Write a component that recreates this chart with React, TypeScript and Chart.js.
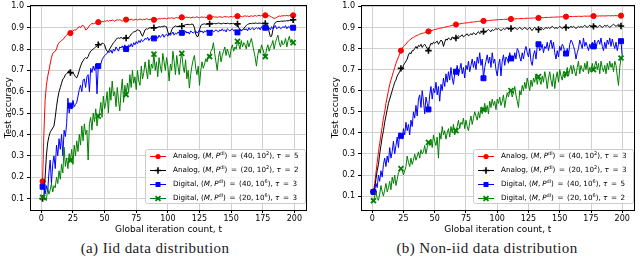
import React, { useEffect, useRef } from "react";
import { Chart, registerables } from "chart.js";

Chart.register(...registerables);

// Global iteration count t = 1..200 (one sample per iteration)
const iterations: number[] = Array.from({ length: 200 }, (_, i) => i + 1);
const xTickStep = 25;
const yTickStep = 0.1;

const schemes = ["Analog", "Analog", "Digital", "Digital"];
const devices = ["40", "20", "40", "20"];
const powerExponents = ["2", "2", "6", "6"];
const iidTaus = ["5", "2", "3", "3"];
const nonIidTaus = ["3", "3", "5", "2"];
const captions = ["(a) Iid data distribution", "(b) Non-iid data distribution"];
const xTitle = "Global iteration count, t";
const yTitle = "Test accuracy";

// (a) iid
const iidAnalog40 = [
  0.18, 0.40, 0.56, 0.63, 0.67, 0.70, 0.73, 0.76, 0.78, 0.785,
  0.79, 0.80, 0.82, 0.83, 0.835, 0.84, 0.845, 0.85, 0.86, 0.865,
  0.87, 0.868, 0.875, 0.88, 0.885, 0.89, 0.888, 0.895, 0.90, 0.905,
  0.90, 0.91, 0.91, 0.905, 0.89, 0.892, 0.90, 0.91, 0.915, 0.92,
  0.918, 0.92, 0.922, 0.92, 0.926, 0.928, 0.925, 0.93, 0.928, 0.932,
  0.93, 0.934, 0.93, 0.935, 0.932, 0.936, 0.934, 0.93, 0.935, 0.937,
  0.935, 0.938, 0.934, 0.93, 0.936, 0.937, 0.938, 0.935, 0.939, 0.936,
  0.94, 0.937, 0.935, 0.938, 0.94, 0.936, 0.938, 0.941, 0.939, 0.937,
  0.94, 0.938, 0.942, 0.94, 0.937, 0.939, 0.941, 0.938, 0.937, 0.94,
  0.942, 0.94, 0.943, 0.941, 0.944, 0.942, 0.945, 0.943, 0.941, 0.944,
  0.946, 0.944, 0.947, 0.945, 0.943, 0.946, 0.948, 0.945, 0.947, 0.946,
  0.949, 0.947, 0.945, 0.948, 0.95, 0.947, 0.949, 0.946, 0.948, 0.95,
  0.947, 0.949, 0.951, 0.948, 0.946, 0.949, 0.951, 0.948, 0.95, 0.947,
  0.949, 0.951, 0.949, 0.947, 0.95, 0.952, 0.949, 0.951, 0.948, 0.95,
  0.952, 0.95, 0.948, 0.951, 0.953, 0.95, 0.952, 0.949, 0.951, 0.953,
  0.95, 0.952, 0.954, 0.951, 0.954, 0.952, 0.955, 0.953, 0.951, 0.954,
  0.956, 0.953, 0.955, 0.952, 0.954, 0.956, 0.953, 0.955, 0.957, 0.954,
  0.956, 0.958, 0.955, 0.957, 0.956, 0.958, 0.958, 0.956, 0.955, 0.957,
  0.953, 0.95, 0.946, 0.944, 0.945, 0.948, 0.952, 0.955, 0.953, 0.956,
  0.955, 0.957, 0.956, 0.958, 0.955, 0.957, 0.959, 0.957, 0.958, 0.96,
];
const iidAnalog20 = [
  0.10, 0.11, 0.20, 0.30, 0.36, 0.39, 0.41, 0.42, 0.43, 0.44,
  0.48, 0.53, 0.57, 0.60, 0.62, 0.64, 0.66, 0.665, 0.68, 0.685,
  0.69, 0.70, 0.69, 0.685, 0.69, 0.68, 0.67, 0.665, 0.68, 0.70,
  0.72, 0.735, 0.745, 0.755, 0.76, 0.755, 0.765, 0.78, 0.79, 0.795,
  0.80, 0.805, 0.81, 0.815, 0.82, 0.825, 0.82, 0.828, 0.826, 0.82,
  0.80, 0.79, 0.785, 0.80, 0.81, 0.82, 0.83, 0.835, 0.845, 0.85,
  0.852, 0.85, 0.855, 0.85, 0.848, 0.852, 0.852, 0.85, 0.855, 0.86,
  0.87, 0.875, 0.88, 0.882, 0.885, 0.89, 0.888, 0.885, 0.87, 0.86,
  0.875, 0.89, 0.895, 0.893, 0.898, 0.90, 0.897, 0.899, 0.90, 0.898,
  0.90, 0.902, 0.905, 0.903, 0.906, 0.905, 0.908, 0.906, 0.904, 0.88,
  0.865, 0.87, 0.89, 0.90, 0.905, 0.908, 0.906, 0.905, 0.907, 0.905,
  0.907, 0.91, 0.912, 0.914, 0.915, 0.916, 0.914, 0.915, 0.917, 0.915,
  0.90, 0.87, 0.858, 0.86, 0.89, 0.91, 0.915, 0.917, 0.918, 0.916,
  0.918, 0.919, 0.918, 0.92, 0.921, 0.919, 0.92, 0.918, 0.92, 0.922,
  0.92, 0.918, 0.919, 0.921, 0.92, 0.919, 0.921, 0.92, 0.918, 0.92,
  0.919, 0.92, 0.915, 0.91, 0.918, 0.90, 0.89, 0.888, 0.89, 0.895,
  0.905, 0.91, 0.915, 0.918, 0.92, 0.919, 0.921, 0.92, 0.922, 0.921,
  0.92, 0.922, 0.921, 0.92, 0.922, 0.921, 0.92, 0.918, 0.91, 0.88,
  0.858, 0.86, 0.89, 0.915, 0.925, 0.928, 0.93, 0.929, 0.93, 0.931,
  0.93, 0.932, 0.931, 0.933, 0.932, 0.934, 0.933, 0.935, 0.937, 0.936,
];
const iidDigital40 = [
  0.155, 0.15, 0.12, 0.16, 0.13, 0.22, 0.28, 0.17, 0.26, 0.30,
  0.24, 0.35, 0.30, 0.38, 0.33, 0.40, 0.30, 0.42, 0.39, 0.45,
  0.57, 0.50, 0.535, 0.52, 0.56, 0.53, 0.54, 0.55, 0.58, 0.61,
  0.63, 0.60, 0.655, 0.66, 0.62, 0.67, 0.68, 0.60, 0.71, 0.69,
  0.72, 0.70, 0.73, 0.59, 0.72, 0.725, 0.73, 0.75, 0.76, 0.77,
  0.775, 0.78, 0.79, 0.785, 0.795, 0.78, 0.80, 0.79, 0.81, 0.80,
  0.79, 0.81, 0.805, 0.815, 0.80, 0.82, 0.80, 0.81, 0.82, 0.81,
  0.825, 0.81, 0.83, 0.82, 0.835, 0.825, 0.84, 0.83, 0.845, 0.835,
  0.84, 0.85, 0.845, 0.855, 0.84, 0.85, 0.855, 0.845, 0.85, 0.855,
  0.86, 0.85, 0.865, 0.855, 0.86, 0.87, 0.855, 0.865, 0.87, 0.86,
  0.875, 0.865, 0.87, 0.88, 0.865, 0.875, 0.87, 0.88, 0.875, 0.87,
  0.876, 0.88, 0.87, 0.885, 0.875, 0.88, 0.87, 0.885, 0.88, 0.875,
  0.88, 0.885, 0.875, 0.88, 0.89, 0.88, 0.885, 0.875, 0.885, 0.88,
  0.89, 0.88, 0.876, 0.885, 0.89, 0.88, 0.885, 0.89, 0.885, 0.88,
  0.89, 0.885, 0.895, 0.885, 0.89, 0.88, 0.895, 0.89, 0.885, 0.89,
  0.895, 0.885, 0.89, 0.88, 0.878, 0.89, 0.895, 0.885, 0.89, 0.895,
  0.89, 0.895, 0.885, 0.90, 0.89, 0.895, 0.90, 0.89, 0.895, 0.90,
  0.895, 0.90, 0.89, 0.905, 0.895, 0.90, 0.90, 0.895, 0.905, 0.90,
  0.89, 0.905, 0.895, 0.90, 0.91, 0.895, 0.90, 0.905, 0.895, 0.90,
  0.905, 0.90, 0.91, 0.895, 0.905, 0.90, 0.91, 0.90, 0.90, 0.905,
];
const iidDigital20 = [
  0.105, 0.11, 0.10, 0.09, 0.15, 0.12, 0.14, 0.17, 0.13, 0.16,
  0.15, 0.20, 0.17, 0.23, 0.19, 0.26, 0.22, 0.34, 0.25, 0.29,
  0.24, 0.31, 0.278, 0.33, 0.26, 0.35, 0.30, 0.37, 0.32, 0.40,
  0.35, 0.44, 0.37, 0.45, 0.40, 0.42, 0.28, 0.45, 0.48, 0.42,
  0.50, 0.46, 0.52, 0.44, 0.486, 0.50, 0.55, 0.48, 0.58, 0.52,
  0.55, 0.60, 0.50, 0.62, 0.56, 0.65, 0.58, 0.60, 0.53, 0.62,
  0.56, 0.51, 0.60, 0.66, 0.55, 0.63, 0.587, 0.64, 0.60, 0.68,
  0.62, 0.70, 0.64, 0.67, 0.61, 0.70, 0.65, 0.63, 0.72, 0.66,
  0.69, 0.74, 0.70, 0.66, 0.75, 0.68, 0.73, 0.71, 0.776, 0.70,
  0.74, 0.67, 0.76, 0.72, 0.69, 0.78, 0.74, 0.70, 0.76, 0.72,
  0.65, 0.73, 0.70, 0.79, 0.74, 0.68, 0.77, 0.72, 0.68, 0.75,
  0.78, 0.72, 0.69, 0.75, 0.66, 0.70, 0.617, 0.68, 0.72, 0.75,
  0.77, 0.71, 0.68, 0.72, 0.63, 0.70, 0.74, 0.71, 0.73, 0.755,
  0.74, 0.77, 0.765, 0.79, 0.80, 0.83, 0.78, 0.74, 0.70, 0.76,
  0.79, 0.74, 0.77, 0.79, 0.81, 0.77, 0.80, 0.78, 0.76, 0.80,
  0.82, 0.79, 0.81, 0.80, 0.836, 0.82, 0.80, 0.84, 0.81, 0.83,
  0.82, 0.80, 0.84, 0.81, 0.83, 0.85, 0.82, 0.79, 0.76, 0.72,
  0.77, 0.80, 0.78, 0.82, 0.80, 0.78, 0.765, 0.80, 0.82, 0.79,
  0.81, 0.82, 0.84, 0.80, 0.83, 0.85, 0.865, 0.83, 0.81, 0.84,
  0.82, 0.827, 0.85, 0.81, 0.84, 0.86, 0.83, 0.845, 0.83, 0.835,
];

// (b) non-iid
const nonIidAnalog40 = [
  0.12, 0.16, 0.21, 0.26, 0.31, 0.35, 0.39, 0.43, 0.47, 0.50,
  0.54, 0.57, 0.60, 0.63, 0.65, 0.67, 0.69, 0.71, 0.73, 0.745,
  0.76, 0.775, 0.79, 0.80, 0.81, 0.815, 0.82, 0.83, 0.835, 0.84,
  0.845, 0.85, 0.853, 0.856, 0.86, 0.862, 0.865, 0.868, 0.87, 0.872,
  0.873, 0.875, 0.877, 0.879, 0.881, 0.883, 0.885, 0.886, 0.888, 0.89,
  0.891, 0.893, 0.894, 0.896, 0.897, 0.898, 0.90, 0.901, 0.902, 0.904,
  0.905, 0.906, 0.908, 0.91, 0.911, 0.912, 0.914, 0.915, 0.916, 0.917,
  0.918, 0.919, 0.92, 0.921, 0.921, 0.922, 0.923, 0.924, 0.925, 0.925,
  0.926, 0.927, 0.927, 0.928, 0.929, 0.929, 0.93, 0.93, 0.931, 0.931,
  0.932, 0.932, 0.933, 0.933, 0.934, 0.934, 0.935, 0.935, 0.936, 0.936,
  0.937, 0.937, 0.938, 0.937, 0.938, 0.939, 0.938, 0.939, 0.94, 0.939,
  0.94, 0.94, 0.941, 0.94, 0.941, 0.942, 0.941, 0.942, 0.942, 0.943,
  0.942, 0.943, 0.943, 0.944, 0.943, 0.944, 0.944, 0.945, 0.944, 0.945,
  0.945, 0.946, 0.945, 0.946, 0.946, 0.947, 0.946, 0.947, 0.947, 0.948,
  0.947, 0.948, 0.948, 0.949, 0.948, 0.949, 0.949, 0.95, 0.949, 0.95,
  0.95, 0.951, 0.95, 0.951, 0.951, 0.952, 0.951, 0.952, 0.952, 0.951,
  0.952, 0.952, 0.953, 0.952, 0.953, 0.953, 0.952, 0.953, 0.953, 0.954,
  0.953, 0.954, 0.953, 0.954, 0.954, 0.953, 0.954, 0.954, 0.955, 0.954,
  0.954, 0.955, 0.954, 0.955, 0.955, 0.954, 0.955, 0.955, 0.956, 0.955,
  0.955, 0.956, 0.955, 0.956, 0.956, 0.955, 0.956, 0.956, 0.956, 0.957,
];
const nonIidAnalog20 = [
  0.12, 0.14, 0.18, 0.22, 0.25, 0.30, 0.34, 0.38, 0.41, 0.45,
  0.48, 0.51, 0.54, 0.56, 0.58, 0.60, 0.62, 0.64, 0.65, 0.67,
  0.68, 0.69, 0.706, 0.70, 0.72, 0.73, 0.74, 0.75, 0.77, 0.78,
  0.775, 0.79, 0.79, 0.80, 0.81, 0.80, 0.815, 0.81, 0.82, 0.805,
  0.815, 0.82, 0.81, 0.80, 0.79, 0.81, 0.825, 0.82, 0.83, 0.825,
  0.83, 0.835, 0.82, 0.83, 0.84, 0.835, 0.81, 0.83, 0.845, 0.84,
  0.85, 0.845, 0.84, 0.855, 0.85, 0.845, 0.85, 0.855, 0.86, 0.855,
  0.86, 0.865, 0.855, 0.86, 0.865, 0.87, 0.86, 0.865, 0.87, 0.865,
  0.875, 0.87, 0.865, 0.875, 0.88, 0.87, 0.875, 0.88, 0.881, 0.875,
  0.88, 0.885, 0.89, 0.885, 0.88, 0.89, 0.885, 0.89, 0.895, 0.89,
  0.895, 0.89, 0.885, 0.89, 0.895, 0.89, 0.895, 0.90, 0.89, 0.895,
  0.895, 0.89, 0.895, 0.90, 0.895, 0.89, 0.895, 0.90, 0.895, 0.89,
  0.895, 0.90, 0.895, 0.89, 0.895, 0.90, 0.89, 0.885, 0.895, 0.90,
  0.895, 0.89, 0.89, 0.895, 0.90, 0.895, 0.89, 0.895, 0.90, 0.895,
  0.90, 0.895, 0.90, 0.905, 0.90, 0.895, 0.90, 0.895, 0.90, 0.905,
  0.90, 0.895, 0.90, 0.905, 0.90, 0.90, 0.895, 0.90, 0.905, 0.90,
  0.905, 0.90, 0.895, 0.90, 0.905, 0.90, 0.905, 0.90, 0.905, 0.91,
  0.905, 0.90, 0.905, 0.91, 0.905, 0.90, 0.905, 0.91, 0.905, 0.90,
  0.905, 0.91, 0.905, 0.90, 0.905, 0.91, 0.905, 0.91, 0.905, 0.90,
  0.905, 0.91, 0.915, 0.91, 0.905, 0.91, 0.915, 0.91, 0.907, 0.905,
];
const nonIidDigital40 = [
  0.12, 0.13, 0.16, 0.14, 0.20, 0.17, 0.22, 0.19, 0.25, 0.28,
  0.24, 0.29, 0.26, 0.33, 0.28, 0.31, 0.36, 0.30, 0.34, 0.38,
  0.33, 0.40, 0.386, 0.37, 0.42, 0.39, 0.45, 0.41, 0.44, 0.39,
  0.46, 0.43, 0.50, 0.47, 0.53, 0.48, 0.56, 0.58, 0.52, 0.60,
  0.55, 0.49, 0.57, 0.54, 0.511, 0.58, 0.62, 0.56, 0.61, 0.59,
  0.64, 0.58, 0.62, 0.55, 0.63, 0.60, 0.66, 0.62, 0.68, 0.64,
  0.69, 0.65, 0.71, 0.66, 0.63, 0.68, 0.69, 0.72, 0.67, 0.70,
  0.73, 0.68, 0.71, 0.66, 0.72, 0.70, 0.74, 0.69, 0.72, 0.75,
  0.71, 0.74, 0.70, 0.76, 0.73, 0.78, 0.72, 0.75, 0.659, 0.71,
  0.74, 0.77, 0.73, 0.76, 0.71, 0.78, 0.73, 0.75, 0.70, 0.67,
  0.72, 0.75, 0.67, 0.74, 0.77, 0.72, 0.76, 0.75, 0.73, 0.78,
  0.753, 0.76, 0.74, 0.78, 0.75, 0.80, 0.79, 0.76, 0.74, 0.78,
  0.75, 0.79, 0.81, 0.78, 0.76, 0.80, 0.74, 0.72, 0.77, 0.79,
  0.75, 0.81, 0.82, 0.79, 0.80, 0.82, 0.78, 0.81, 0.80, 0.83,
  0.79, 0.82, 0.84, 0.80, 0.83, 0.78, 0.75, 0.79, 0.76, 0.81,
  0.79, 0.82, 0.81, 0.78, 0.776, 0.80, 0.77, 0.82, 0.84, 0.83,
  0.81, 0.79, 0.75, 0.78, 0.80, 0.84, 0.82, 0.80, 0.85, 0.81,
  0.83, 0.81, 0.79, 0.82, 0.80, 0.83, 0.81, 0.84, 0.80, 0.83,
  0.84, 0.82, 0.85, 0.81, 0.79, 0.83, 0.80, 0.84, 0.82, 0.85,
  0.81, 0.845, 0.82, 0.80, 0.83, 0.79, 0.82, 0.84, 0.835, 0.76,
];
const nonIidDigital20 = [
  0.078, 0.10, 0.12, 0.09, 0.08, 0.11, 0.15, 0.12, 0.10, 0.13,
  0.16, 0.12, 0.14, 0.17, 0.13, 0.19, 0.16, 0.20, 0.15, 0.18,
  0.21, 0.22, 0.23, 0.225, 0.20, 0.22, 0.24, 0.29, 0.26, 0.24,
  0.28, 0.25, 0.27, 0.30, 0.27, 0.29, 0.31, 0.28, 0.32, 0.30,
  0.31, 0.34, 0.30, 0.33, 0.355, 0.34, 0.37, 0.33, 0.39, 0.36,
  0.34, 0.38, 0.28, 0.40, 0.37, 0.43, 0.39, 0.41, 0.37, 0.40,
  0.42, 0.38, 0.43, 0.40, 0.44, 0.39, 0.41, 0.43, 0.46, 0.42,
  0.45, 0.44, 0.47, 0.42, 0.46, 0.43, 0.41, 0.45, 0.48, 0.44,
  0.47, 0.50, 0.48, 0.46, 0.50, 0.47, 0.52, 0.49, 0.51, 0.54,
  0.50, 0.53, 0.49, 0.55, 0.52, 0.56, 0.53, 0.55, 0.51, 0.56,
  0.54, 0.57, 0.53, 0.55, 0.58, 0.52, 0.56, 0.59, 0.57, 0.60,
  0.60, 0.57, 0.59, 0.62, 0.58, 0.55, 0.52, 0.60, 0.58, 0.625,
  0.60, 0.64, 0.61, 0.66, 0.63, 0.60, 0.65, 0.62, 0.66, 0.64,
  0.68, 0.63, 0.667, 0.65, 0.63, 0.67, 0.64, 0.69, 0.66, 0.61,
  0.66, 0.69, 0.65, 0.62, 0.68, 0.61, 0.66, 0.69, 0.64, 0.70,
  0.67, 0.65, 0.69, 0.66, 0.68, 0.71, 0.67, 0.70, 0.72, 0.68,
  0.72, 0.69, 0.67, 0.71, 0.74, 0.68, 0.72, 0.70, 0.69, 0.73,
  0.70, 0.74, 0.68, 0.71, 0.69, 0.73, 0.70, 0.72, 0.74, 0.70,
  0.73, 0.68, 0.74, 0.71, 0.69, 0.72, 0.68, 0.73, 0.70, 0.74,
  0.71, 0.73, 0.69, 0.74, 0.72, 0.67, 0.625, 0.71, 0.755, 0.76,
];

// ---- styles ----
const COLORS = ["#ff0000", "#000000", "#0000ff", "#008000"];
const MARKERS = ["circle", "cross", "rect", "crossRot"];
const MARKER_R = [2.6, 3.2, 3.5, 3.5];
const MARKER_W = [1, 1.6, 1, 1.8];
const MARK_EVERY = 22;
const FONT = '"DejaVu Sans", sans-serif';
const CANVAS_H = 236;
const LEGEND_FS = 7.2;
const LEGEND_SUP_FS = 5.0;

type Seg = { t?: string; it?: boolean; sup?: boolean; gap?: number };

function legendSegs(k: number, taus: string[]): Seg[] {
  return [
    { t: schemes[k] + ", (" },
    { t: "M", it: true },
    { t: "," },
    { gap: 2 },
    { t: "P", it: true },
    { t: "dl", sup: true },
    { t: ")" },
    { gap: 3.6 },
    { t: "=" },
    { gap: 3.6 },
    { t: "(" + devices[k] + "," },
    { gap: 2 },
    { t: "10" },
    { t: powerExponents[k], sup: true },
    { t: "), " },
    { t: "τ", it: true },
    { gap: 3.6 },
    { t: "=" },
    { gap: 3.6 },
    { t: taus[k] },
  ];
}

function drawMarker(ctx: any, k: number, x: number, y: number) {
  const style = MARKERS[k];
  const r = MARKER_R[k];
  ctx.save();
  ctx.strokeStyle = COLORS[k];
  ctx.fillStyle = COLORS[k];
  ctx.lineWidth = MARKER_W[k];
  ctx.beginPath();
  if (style === "circle") {
    ctx.arc(x, y, r, 0, Math.PI * 2);
    ctx.fill();
  } else if (style === "rect") {
    const s = r * Math.SQRT1_2;
    ctx.fillRect(x - s, y - s, 2 * s, 2 * s);
  } else if (style === "cross") {
    ctx.moveTo(x - r, y);
    ctx.lineTo(x + r, y);
    ctx.moveTo(x, y - r);
    ctx.lineTo(x, y + r);
    ctx.stroke();
  } else {
    const d = r * Math.SQRT1_2;
    ctx.moveTo(x - d, y - d);
    ctx.lineTo(x + d, y + d);
    ctx.moveTo(x - d, y + d);
    ctx.lineTo(x + d, y - d);
    ctx.stroke();
  }
  ctx.restore();
}

function richLegend(taus: string[]) {
  return {
    id: "richLegend",
    afterDraw(chart: any) {
      const ctx = chart.ctx;
      const a = chart.chartArea;
      const fontOf = (s: Seg) =>
        `${s.it ? "italic " : ""}${s.sup ? LEGEND_SUP_FS : LEGEND_FS}px ${FONT}`;
      const segW = (s: Seg) => {
        if (s.gap !== undefined) return s.gap;
        ctx.font = fontOf(s);
        return ctx.measureText(s.t || "").width;
      };
      const rows = [0, 1, 2, 3].map((k) => legendSegs(k, taus));
      ctx.save();
      const widths = rows.map((segs) => segs.reduce((w, s) => w + segW(s), 0));
      const textW = Math.max(...widths);
      const boxW = Math.round(textW + 34);
      const boxH = 54;
      const rowH = 14.2;
      const right = Math.round(a.right - 2);
      const bottom = Math.round(a.bottom - 7);
      const left = right - boxW;
      const top = bottom - boxH;
      ctx.fillStyle = "rgba(255,255,255,0.8)";
      ctx.strokeStyle = "#cccccc";
      ctx.lineWidth = 1;
      ctx.beginPath();
      ctx.roundRect(left + 0.5, top + 0.5, boxW, boxH, 2);
      ctx.fill();
      ctx.stroke();
      rows.forEach((segs, k) => {
        const y = Math.round(top + 6.7 + k * rowH) + 0.5;
        ctx.strokeStyle = COLORS[k];
        ctx.lineWidth = 1;
        ctx.beginPath();
        ctx.moveTo(left + 5, y);
        ctx.lineTo(left + 21, y);
        ctx.stroke();
        drawMarker(ctx, k, left + 13, y);
        let x = left + 28;
        ctx.fillStyle = "#000";
        ctx.textBaseline = "middle";
        ctx.textAlign = "left";
        segs.forEach((s) => {
          const w = segW(s);
          if (s.t) {
            ctx.font = fontOf(s);
            ctx.fillText(s.t, x, s.sup ? y - 2.6 : y);
          }
          x += w;
        });
      });
      ctx.restore();
    },
  };
}

const framePlugin = {
  id: "frame",
  afterDatasetsDraw(chart: any) {
    const { ctx, chartArea: a } = chart;
    ctx.save();
    ctx.strokeStyle = "#000";
    ctx.lineWidth = 1;
    ctx.strokeRect(
      Math.round(a.left) + 0.5,
      Math.round(a.top) + 0.5,
      Math.round(a.right - a.left) - 1,
      Math.round(a.bottom - a.top)
    );
    ctx.restore();
  },
};

type Geom = { yMin: number; yMax: number; yAxisWidth: number; rightPad: number };

function Panel(props: { series: number[][]; taus: string[]; geom: Geom; left: number; width: number }) {
  const ref = useRef<HTMLCanvasElement | null>(null);
  const { series, taus, geom, left, width } = props;
  useEffect(() => {
    const canvas = ref.current!;
    const xAxisHeight = CANVAS_H - 210;
    const chart = new Chart(canvas, {
      type: "line",
      data: {
        datasets: series.map((vals, k) => ({
          label: `${schemes[k]} ${devices[k]}`,
          data: vals.map((v, i) => ({ x: iterations[i], y: v })),
          borderColor: COLORS[k],
          backgroundColor: COLORS[k],
          borderWidth: 1,
          borderJoinStyle: "round",
          tension: 0,
          pointStyle: MARKERS[k] as any,
          pointRadius: (c: any) => (c.dataIndex % MARK_EVERY === 0 ? MARKER_R[k] : 0),
          pointHoverRadius: 0,
          pointBorderWidth: MARKER_W[k],
          pointBackgroundColor: COLORS[k],
          pointBorderColor: COLORS[k],
          order: 4 - k,
        })),
      },
      options: {
        responsive: false,
        animation: false,
        events: [],
        layout: { padding: { top: 3, right: geom.rightPad, left: 0, bottom: 0 } },
        plugins: { legend: { display: false }, tooltip: { enabled: false } },
        scales: {
          x: {
            type: "linear",
            min: -8.95,
            max: 209.95,
            afterFit: (s: any) => {
              s.height = xAxisHeight;
              s.paddingLeft = 0;
              s.paddingRight = 0;
            },
            ticks: {
              stepSize: xTickStep,
              includeBounds: false,
              autoSkip: false,
              maxRotation: 0,
              padding: 1,
              color: "#000",
              font: { family: FONT, size: 8 },
            },
            grid: { color: "#d0d0d0", tickColor: "#000", tickLength: 3, lineWidth: 1 },
            border: { display: false },
            title: {
              display: true,
              text: xTitle,
              color: "#000",
              font: { family: FONT, size: 9 },
              padding: { top: 0, bottom: 1.3 },
            },
          },
          y: {
            type: "linear",
            min: geom.yMin,
            max: geom.yMax,
            afterFit: (s: any) => {
              s.width = geom.yAxisWidth;
              s.paddingTop = 0;
              s.paddingBottom = 0;
            },
            ticks: {
              stepSize: yTickStep,
              includeBounds: false,
              autoSkip: false,
              padding: 3,
              color: "#000",
              font: { family: FONT, size: 8 },
              callback: (v: any) => Number(v).toFixed(1),
            },
            grid: { color: "#d0d0d0", tickColor: "#000", tickLength: 3, lineWidth: 1 },
            border: { display: false },
            title: {
              display: true,
              text: yTitle,
              color: "#000",
              font: { family: FONT, size: 9 },
              padding: { top: 3, bottom: 0 },
            },
          },
        },
      } as any,
      plugins: [framePlugin, richLegend(taus)],
    });
    return () => chart.destroy();
  }, []);
  return (
    <canvas
      ref={ref}
      width={width}
      height={CANVAS_H}
      style={{ position: "absolute", left, top: 0, width, height: CANVAS_H }}
    />
  );
}

const captionStyle = (center: number): React.CSSProperties => ({
  position: "absolute",
  left: center - 150,
  width: 300,
  top: 239,
  textAlign: "center",
  fontFamily: '"Liberation Serif", serif',
  fontSize: 15,
  letterSpacing: "0.4px",
  lineHeight: "18px",
  color: "#1a1a1a",
  whiteSpace: "nowrap",
});

export default function App() {
  return (
    <div
      style={{
        position: "absolute",
        left: 0,
        top: 0,
        width: 640,
        height: 259,
        overflow: "hidden",
        background: "#fff",
      }}
    >
      <Panel
        series={[iidAnalog40, iidAnalog20, iidDigital40, iidDigital20]}
        taus={iidTaus}
        geom={{ yMin: 0.046, yMax: 1.005, yAxisWidth: 30, rightPad: 13 }}
        left={0}
        width={320}
      />
      <Panel
        series={[nonIidAnalog40, nonIidAnalog20, nonIidDigital40, nonIidDigital20]}
        taus={nonIidTaus}
        geom={{ yMin: 0.034, yMax: 1.005, yAxisWidth: 34, rightPad: 4 }}
        left={327}
        width={313}
      />
      <div style={captionStyle(155)}>{captions[0]}</div>
      <div style={captionStyle(487)}>{captions[1]}</div>
    </div>
  );
}
